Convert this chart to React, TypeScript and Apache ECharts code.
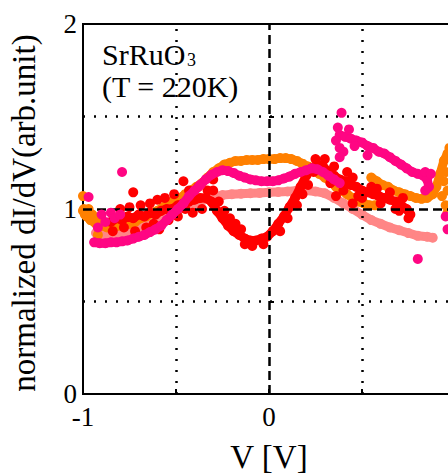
import React, { useEffect, useRef } from "react";
import * as echarts from "echarts";

// ---- data (V [V], normalized dI/dV) ----
const salmonBand: (number[] | null)[] = [
  [-0.93, 0.87], [-0.9, 0.86], [-0.85, 0.86], [-0.8, 0.87], [-0.75, 0.88], [-0.7, 0.9],
  [-0.65, 0.92], [-0.6, 0.95], [-0.55, 0.97], [-0.5, 0.99], [-0.45, 1.01], [-0.4, 1.03],
  [-0.35, 1.05], [-0.3, 1.065], [-0.25, 1.075], [-0.2, 1.08], [-0.15, 1.083], [-0.1, 1.085],
  [-0.05, 1.087], [0, 1.09], [0.05, 1.092], [0.1, 1.095], [0.15, 1.1], [0.2, 1.1],
  [0.25, 1.095], [0.3, 1.085], [0.35, 1.06], [0.4, 1.03], [0.45, 1.0], [0.5, 0.97],
  [0.55, 0.94], [0.6, 0.92], [0.65, 0.9], [0.7, 0.885], [0.75, 0.87], [0.8, 0.855],
  [0.85, 0.85], [0.88, 0.845],
];

const orangeBand: (number[] | null)[] = [
  [-1.0, 0.99], [-0.98, 0.96], [-0.96, 0.94], [-0.93, 0.92], [-0.9, 0.91], [-0.87, 0.9],
  [-0.84, 0.9], [-0.81, 0.91], [-0.78, 0.91], [-0.75, 0.92], [-0.72, 0.93], [-0.69, 0.95],
  [-0.66, 0.96], [-0.63, 0.98], [-0.6, 0.99], [-0.57, 1.01], [-0.54, 1.03], [-0.51, 1.05],
  [-0.48, 1.06], [-0.45, 1.08], [-0.42, 1.1], [-0.39, 1.12], [-0.36, 1.14], [-0.33, 1.17],
  [-0.3, 1.2], [-0.27, 1.22], [-0.24, 1.24], [-0.21, 1.25], [-0.18, 1.26], [-0.15, 1.26],
  [-0.12, 1.265], [-0.09, 1.265], [-0.06, 1.265], [-0.03, 1.27], [0, 1.27], [0.03, 1.27],
  [0.06, 1.275], [0.09, 1.275], [0.12, 1.27], [0.15, 1.26], [0.18, 1.245], [0.21, 1.23],
  [0.24, 1.21], [0.27, 1.19], [0.3, 1.17], [0.33, 1.15], [0.36, 1.12], [0.39, 1.1],
  [0.42, 1.08], [0.45, 1.06], [0.48, 1.04], [0.51, 1.03], [0.54, 1.02], [0.57, 1.02],
  null,
  [0.55, 1.17], [0.58, 1.15], [0.61, 1.13], [0.64, 1.12], [0.67, 1.1], [0.7, 1.09],
  [0.73, 1.08], [0.76, 1.07], [0.79, 1.06], [0.82, 1.055], [0.85, 1.06], [0.88, 1.08],
  [0.9, 1.12], [0.92, 1.19], [0.94, 1.26], [0.96, 1.3],
];
const orangeScatter: number[][] = [
  [-1.0, 1.07], [-0.995, 1.0], [-0.99, 0.97], [-0.97, 1.0], [-0.95, 0.97], [-0.92, 0.95],
  [-0.92, 0.86], [0.95, 1.2], [0.96, 1.1], [0.95, 1.02], [0.96, 0.98], [0.97, 1.33],
  [0.94, 1.15], [0.93, 1.07],
];

const redBand: (number[] | null)[] = [
  [-0.85, 0.93], [-0.82, 0.95], [-0.79, 0.94], [-0.76, 0.96], [-0.73, 0.95], [-0.7, 0.97],
  [-0.67, 0.96], [-0.64, 0.98], [-0.61, 0.97], [-0.58, 0.99], [-0.55, 1.0], [-0.52, 1.0],
  [-0.49, 1.02], [-0.46, 1.03], [-0.43, 1.04], [-0.4, 1.05], [-0.37, 1.06], [-0.34, 1.06],
  [-0.31, 1.04], [-0.28, 0.99], [-0.25, 0.95], [-0.22, 0.91], [-0.19, 0.88], [-0.16, 0.86],
  [-0.13, 0.84], [-0.1, 0.83], [-0.07, 0.83], [-0.04, 0.84], [-0.01, 0.85], [0.02, 0.88],
  [0.05, 0.92], [0.08, 0.96], [0.11, 1.01], [0.14, 1.06], [0.17, 1.12], [0.2, 1.18],
  [0.23, 1.22], [0.26, 1.24], [0.29, 1.23], [0.32, 1.2], [0.35, 1.18], [0.38, 1.16],
  [0.41, 1.15], [0.44, 1.13], [0.47, 1.12], [0.5, 1.1], [0.53, 1.09], [0.56, 1.08],
  [0.59, 1.07], [0.62, 1.06], [0.65, 1.05], [0.68, 1.04], [0.71, 1.02], [0.74, 1.0],
  [0.76, 0.97],
];
const redScatter: number[][] = [
  [-0.84, 0.88], [-0.8, 1.0], [-0.78, 0.9], [-0.75, 1.01], [-0.73, 1.09], [-0.72, 0.88],
  [-0.69, 1.02], [-0.66, 0.9], [-0.64, 1.03], [-0.62, 0.92], [-0.6, 1.05], [-0.59, 0.89],
  [-0.56, 1.06], [-0.54, 0.94], [-0.51, 1.08], [-0.49, 0.96], [-0.46, 1.15], [-0.45, 1.0],
  [-0.43, 1.1], [-0.41, 0.98], [-0.38, 1.12], [-0.36, 1.0], [-0.33, 1.1], [-0.3, 1.16],
  [-0.3, 1.1], [-0.27, 1.04], [-0.24, 0.99], [-0.21, 0.95], [-0.18, 0.92], [-0.15, 0.89],
  [-0.13, 0.81], [-0.09, 0.8], [-0.03, 0.81], [0.06, 0.88], [0.1, 0.95], [0.15, 1.02],
  [0.18, 1.08], [0.21, 1.13], [0.24, 1.2], [0.25, 1.27], [0.3, 1.27], [0.35, 1.23],
  [0.33, 1.14], [0.36, 1.07], [0.4, 1.1], [0.42, 1.2], [0.45, 1.17], [0.45, 1.03],
  [0.48, 1.07], [0.5, 1.06], [0.55, 1.12], [0.58, 1.11], [0.6, 1.03], [0.65, 1.09],
  [0.68, 1.0], [0.7, 0.99], [0.72, 1.06], [0.75, 0.95],
];

const magentaBand: (number[] | null)[] = [
  [-0.94, 0.82], [-0.91, 0.815], [-0.88, 0.815], [-0.85, 0.82], [-0.82, 0.82], [-0.79, 0.825],
  [-0.76, 0.83], [-0.73, 0.84], [-0.7, 0.85], [-0.67, 0.86], [-0.64, 0.875], [-0.61, 0.89],
  [-0.58, 0.91], [-0.55, 0.94], [-0.52, 0.97], [-0.49, 1.0], [-0.46, 1.03], [-0.43, 1.07],
  [-0.4, 1.1], [-0.37, 1.13], [-0.34, 1.16], [-0.31, 1.185], [-0.28, 1.2], [-0.25, 1.21],
  [-0.22, 1.205], [-0.19, 1.195], [-0.16, 1.18], [-0.13, 1.17], [-0.1, 1.16], [-0.07, 1.155],
  [-0.04, 1.15], [-0.01, 1.15], [0.02, 1.15], [0.05, 1.155], [0.08, 1.165], [0.11, 1.175],
  [0.14, 1.19], [0.17, 1.2], [0.2, 1.21], [0.23, 1.22], [0.26, 1.215], [0.29, 1.2],
  [0.32, 1.18], [0.35, 1.16], [0.38, 1.14],
  null,
  [0.38, 1.4], [0.41, 1.39], [0.44, 1.38], [0.47, 1.37], [0.5, 1.36], [0.53, 1.34],
  [0.56, 1.33], [0.59, 1.31], [0.62, 1.3], [0.65, 1.28], [0.68, 1.26], [0.71, 1.24],
  [0.74, 1.22], [0.77, 1.2], [0.8, 1.19], [0.83, 1.18], [0.85, 1.16], [0.86, 1.12],
  [0.84, 1.1],
];
const magentaScatter: number[][] = [
  [-0.97, 1.065], [-0.79, 1.2], [-0.9, 0.97], [-0.88, 0.93], [-0.85, 0.98], [-0.83, 0.95],
  [-0.8, 0.97], [-0.92, 0.9], [0.39, 1.52], [0.37, 1.44], [0.38, 1.33], [0.4, 1.31],
  [0.43, 1.43], [0.46, 1.34], [0.36, 1.37], [0.38, 1.28], [0.53, 1.29], [0.8, 0.73],
  [0.95, 0.96], [0.96, 0.89], [0.84, 1.2], [0.87, 1.19],
];

const xTicks = [-1, 0];
const yTicks = [0, 1, 2];
const dottedX = [-0.5, 0.5];
const dashedX = [0];
const dottedY = [0.5, 1.5];
const dashedY = [1];

const ORANGE = "#ff8000";
const SALMON = "#ff8686";
const RED = "#ff0000";
const MAGENTA = "#ff0683";
const FONT = '"Liberation Serif", "Times New Roman", serif';

function band(name: string, data: (number[] | null)[], color: string, z: number) {
  return {
    name,
    type: "line",
    data: data.map((d) => (d === null ? [null, null] : d)),
    connectNulls: false,
    clip: false,
    z,
    symbol: "circle",
    symbolSize: 10,
    showSymbol: true,
    itemStyle: { color },
    lineStyle: { color, width: 9, cap: "round", join: "round" },
  };
}
function dots(name: string, data: number[][], color: string, z: number) {
  return {
    name,
    type: "scatter",
    data,
    clip: false,
    z,
    symbol: "circle",
    symbolSize: 10,
    itemStyle: { color, opacity: 1 },
  };
}

export default function App() {
  const ref = useRef<HTMLDivElement>(null);
  useEffect(() => {
    if (!ref.current) return;
    const chart = echarts.init(ref.current, undefined, { renderer: "svg" });
    const dotted = { color: "#000", width: 2.5, type: [2, 9] };
    const dashed = { color: "#000", width: 2.5, type: [9, 5] };
    const gridLines = [
      ...dottedX.map((v) => ({ xAxis: v, lineStyle: dotted })),
      ...dashedX.map((v) => ({ xAxis: v, lineStyle: dashed })),
      ...dottedY.map((v) => ({ yAxis: v, lineStyle: dotted })),
      ...dashedY.map((v) => ({ yAxis: v, lineStyle: dashed })),
    ];
    chart.setOption({
      animation: false,
      backgroundColor: "#fff",
      grid: {
        left: 83, width: 372, top: 24, height: 370,
        containLabel: false, outerBoundsMode: "none",
        show: true, borderColor: "#000", borderWidth: 2, backgroundColor: "transparent",
      },
      xAxis: {
        type: "value",
        min: -1,
        max: 1,
        interval: 0.5,
        axisLine: { show: false },
        splitLine: { show: false },
        axisTick: { show: true, inside: true, length: 5, lineStyle: { color: "#000", width: 2 } },
        axisLabel: {
          margin: 9,
          color: "#000",
          fontFamily: FONT,
          fontSize: 27,
          formatter: (v: number) => (xTicks.includes(v) ? String(v) : ""),
        },
      },
      yAxis: {
        type: "value",
        min: 0,
        max: 2,
        interval: 0.5,
        axisLine: { show: false },
        splitLine: { show: false },
        axisTick: { show: true, inside: true, length: 5, lineStyle: { color: "#000", width: 2 } },
        axisLabel: {
          margin: 6,
          color: "#000",
          fontFamily: FONT,
          fontSize: 27,
          formatter: (v: number) => (yTicks.includes(v) ? String(v) : ""),
        },
      },
      series: [
        {
          name: "grid",
          type: "line",
          data: [],
          z: 1,
          markLine: { silent: true, symbol: "none", label: { show: false }, data: gridLines },
        },
        band("salmon", salmonBand, SALMON, 2),
        band("orange", orangeBand, ORANGE, 3),
        dots("orange pts", orangeScatter, ORANGE, 3),
        band("red", redBand, RED, 4),
        dots("red pts", redScatter, RED, 4),
        band("magenta", magentaBand, MAGENTA, 5),
        dots("magenta pts", magentaScatter, MAGENTA, 5),
      ],
      graphic: [
        { type: "text", x: 102, y: 54, style: { text: "SrRuO", font: `30px ${FONT}`, fill: "#000", align: "left", verticalAlign: "middle" } },
        { type: "text", x: 187, y: 60, style: { text: "3", font: `18px ${FONT}`, fill: "#000", align: "left", verticalAlign: "middle" } },
        { type: "text", x: 102, y: 86, style: { text: "(T = 220K)", font: `30px ${FONT}`, fill: "#000", align: "left", verticalAlign: "middle" } },
        { type: "text", x: 269, y: 457, style: { text: "V [V]", font: `33px ${FONT}`, fill: "#000", align: "center", verticalAlign: "middle" } },
        { type: "text", x: 24, y: 213, rotation: Math.PI / 2, style: { text: "normalized dI/dV(arb.unit)", font: `33px ${FONT}`, fill: "#000", align: "center", verticalAlign: "middle" } },
      ],
    });
    return () => chart.dispose();
  }, []);
  return <div ref={ref} style={{ position: "absolute", left: 0, top: 0, width: 448, height: 474 }} />;
}
